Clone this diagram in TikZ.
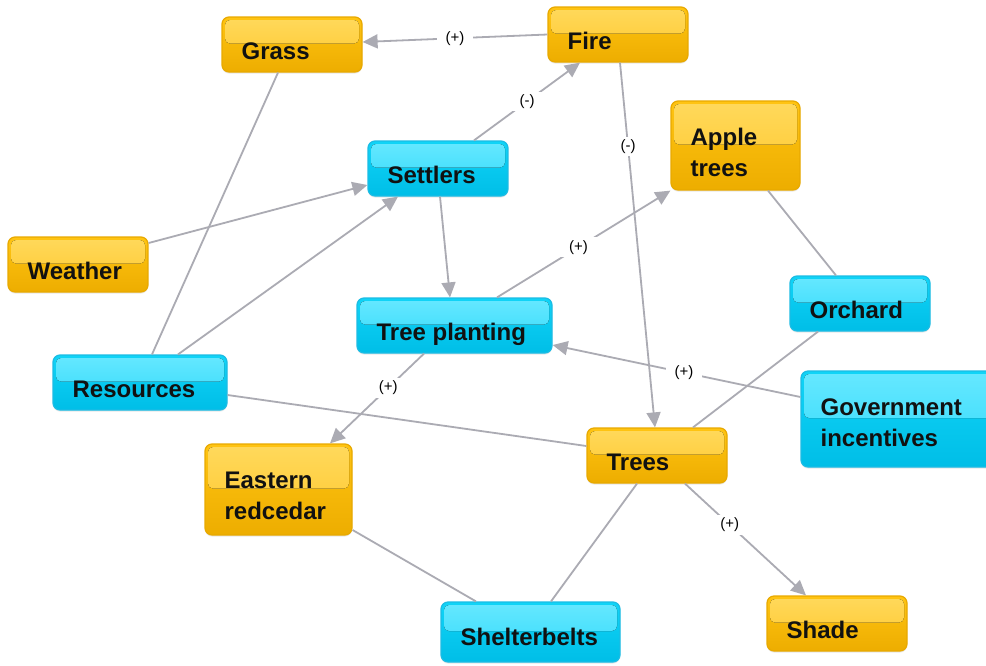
\documentclass[tikz,border=0pt]{standalone}
\usepackage{fontspec}
\setmainfont{Liberation Sans}
\usetikzlibrary{arrows.meta,shadows}
\definecolor{oTop}{HTML}{FFC412}
\definecolor{oBot}{HTML}{EDAD00}
\definecolor{oHiA}{HTML}{FFD95C}
\definecolor{oHiB}{HTML}{FFC72A}
\definecolor{oBrd}{HTML}{E8A900}
\definecolor{bTop}{HTML}{10D4F7}
\definecolor{bBot}{HTML}{00BEE7}
\definecolor{bHiA}{HTML}{66E8FF}
\definecolor{bHiB}{HTML}{30D9FA}
\definecolor{bBrd}{HTML}{1CBCE4}
\definecolor{lineG}{HTML}{ABABB3}
\definecolor{txtC}{HTML}{111111}
\tikzset{
  box/.style={rounded corners=7pt, inner sep=0pt, line width=1.2pt, minimum height=55pt,
    drop shadow={shadow xshift=0pt, shadow yshift=-1.5pt, opacity=0.18}},
  obox/.style={box, draw=oBrd, top color=oTop, bottom color=oBot,
    path picture={\fill[top color=oHiA, bottom color=oHiB, rounded corners=5pt]
      ([shift={(3pt,-3pt)}]path picture bounding box.north west) rectangle
      ([shift={(-3pt,1pt)}]path picture bounding box.east);}},
  bbox/.style={box, draw=bBrd, top color=bTop, bottom color=bBot,
    path picture={\fill[top color=bHiA, bottom color=bHiB, rounded corners=5pt]
      ([shift={(3pt,-3pt)}]path picture bounding box.north west) rectangle
      ([shift={(-3pt,1pt)}]path picture bounding box.east);}},
  txt/.style={anchor=base west, xshift=20pt, yshift=-15pt, inner sep=0pt, align=left,
    font=\bfseries\fontsize{24}{31}\selectfont, text=txtC},
  con/.style={draw=lineG, line width=1.8pt},
  arr/.style={con, -{Triangle[length=15pt,width=14pt]}},
  elbl/.style={fill=white, inner xsep=9pt, inner ysep=3pt, font=\fontsize{15}{18}\selectfont, text=black},
}
\begin{document}
\begin{tikzpicture}[x=1pt,y=-1pt]
\useasboundingbox[fill=white] (0,0) rectangle (986,665);
\node[obox, minimum width=140pt, label={[txt]west:Grass}] (grass) at (292,44.5) {};
\node[obox, minimum width=140pt, label={[txt]west:Fire}] (fire) at (618,34.5) {};
\node[obox, minimum width=129pt, minimum height=89pt, label={[txt, yshift=-15.5pt]west:Apple\\trees}] (apple) at (735.5,145.5) {};
\node[bbox, minimum width=140pt, label={[txt]west:Settlers}] (settlers) at (438,168.5) {};
\node[obox, minimum width=140pt, label={[txt]west:Weather}] (weather) at (78,264.5) {};
\node[bbox, minimum width=140pt, label={[txt]west:Orchard}] (orchard) at (860,303.5) {};
\node[bbox, minimum width=195pt, label={[txt]west:Tree planting}] (plant) at (454.5,325.5) {};
\node[bbox, minimum width=174pt, label={[txt]west:Resources}] (res) at (140,382.5) {};
\node[bbox, minimum width=200pt, minimum height=96pt, label={[txt, yshift=-12pt]west:Government\\incentives}] (gov) at (901,419) {};
\node[obox, minimum width=140pt, label={[txt]west:Trees}] (trees) at (657,455.5) {};
\node[obox, minimum width=147pt, minimum height=91pt, label={[txt, yshift=-15pt]west:Eastern\\redcedar}] (cedar) at (278.5,489.5) {};
\node[bbox, minimum width=179pt, minimum height=60pt, label={[txt, yshift=2pt]west:Shelterbelts}] (shelter) at (530.5,632) {};
\node[obox, minimum width=140pt, label={[txt]west:Shade}] (shade) at (837,623.5) {};
\draw[arr] (fire.west) -- node[elbl]{(+)} ([yshift=2.5pt]grass.east);
\draw[arr] ([xshift=36pt]settlers.north) -- node[elbl]{(-)} ([xshift=-38pt]fire.south);
\draw[arr] ([xshift=2pt]fire.south) -- node[elbl, pos=0.23]{(-)} ([xshift=-2pt]trees.north);
\draw[arr] ([yshift=21.5pt]weather.east) -- ([yshift=-16.5pt]settlers.west);
\draw[arr] ([xshift=38pt]res.north) -- ([xshift=-40pt]settlers.south);
\draw[con] ([xshift=-14pt]grass.south) -- ([xshift=12pt]res.north);
\draw[arr] ([xshift=2pt]settlers.south) -- ([xshift=-4.5pt]plant.north);
\draw[arr] ([xshift=42.5pt]plant.north) -- node[elbl, pos=0.47]{(+)} (apple.south west);
\draw[con] ([xshift=32.5pt]apple.south) -- ([xshift=-24pt]orchard.north);
\draw[con] ([xshift=-42pt]orchard.south) -- ([xshift=36pt]trees.north);
\draw[arr] ([yshift=22pt]gov.west) -- node[elbl, pos=0.47]{(+)} ([yshift=-19.5pt]plant.east);
\draw[arr] ([xshift=-30.5pt]plant.south) -- node[elbl, pos=0.38]{(+)} ([xshift=51.5pt]cedar.north);
\draw[con] ([yshift=-12.5pt]res.east) -- ([yshift=9.5pt]trees.west);
\draw[arr] ([xshift=28pt]trees.south) -- node[elbl, pos=0.37]{(+)} ([xshift=-31pt]shade.north);
\draw[con] ([xshift=-20pt]trees.south) -- ([xshift=20.5pt]shelter.north);
\draw[con] ([yshift=-40.5pt]cedar.east) -- ([xshift=-54.5pt]shelter.north);
\end{tikzpicture}
\end{document}
